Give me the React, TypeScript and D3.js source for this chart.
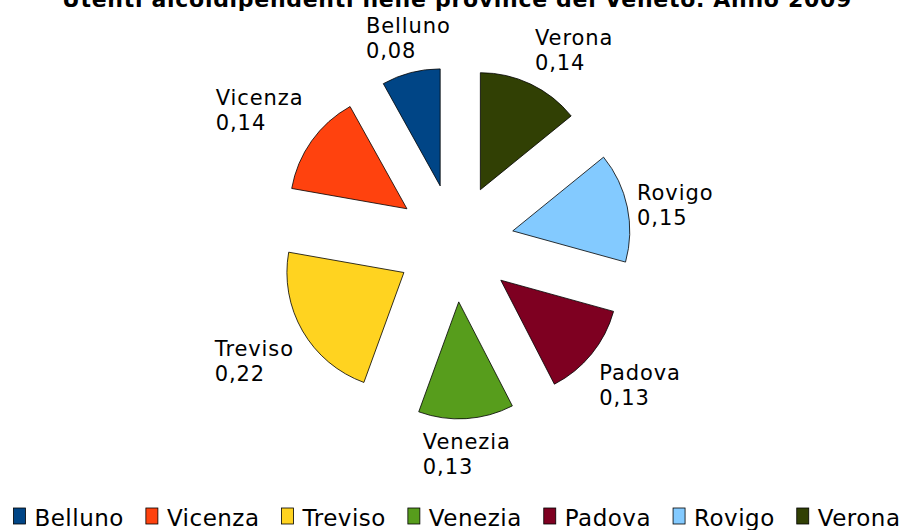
import React from "react";
import * as d3 from "d3";

const title = "Utenti alcoldipendenti nelle province del Veneto. Anno 2009";
const provinces = ["Belluno", "Vicenza", "Treviso", "Venezia", "Padova", "Rovigo", "Verona"];
const values = [0.08, 0.14, 0.22, 0.13, 0.13, 0.15, 0.14];
const colors = ["#004586", "#ff420e", "#ffd320", "#579d1c", "#7e0021", "#83caff", "#314004"];

const W = 909;
const H = 530;
const FONT = "'DejaVu Sans', Verdana, sans-serif";

let ctx: CanvasRenderingContext2D | null = null;
function measure(text: string, font: string, ls: number): number {
  if (!ctx) ctx = document.createElement("canvas").getContext("2d");
  if (!ctx) return text.length * 12;
  ctx.font = font;
  return ctx.measureText(text).width + ls * text.length;
}

const fmt = (v: number) => v.toFixed(2).replace(".", ",");

export default function App() {
  const cx = 455;
  const cy = 243;
  const R = 117;
  const explode = 59;
  const labelR = 186;
  const labelSize = 21;
  const labelLS = 0.9;
  const lineH = 25;

  const pie = d3
    .pie<number>()
    .sort(null)
    .value((d) => d)
    .startAngle(0)
    .endAngle(-2 * Math.PI);
  const arcs = pie(values);
  const arcGen = d3.arc<d3.PieArcDatum<number>>().innerRadius(0).outerRadius(R);

  const labelFont = `${labelSize}px ${FONT}`;

  const labels = arcs.map((a, i) => {
    const mid = (a.startAngle + a.endAngle) / 2;
    const ax = cx + Math.sin(mid) * labelR;
    const ay = cy - Math.cos(mid) * labelR;
    let theta = 90 - (mid * 180) / Math.PI;
    theta = ((theta % 360) + 360) % 360;
    const lines = [provinces[i], fmt(values[i])];
    const bw = Math.max(...lines.map((l) => measure(l, labelFont, labelLS)));
    const bh = 2 * lineH;
    const sector = Math.round(theta / 45) % 8;
    let x0 = ax;
    let y0 = ay;
    if (sector === 0) { x0 = ax; y0 = ay - bh / 2; }
    else if (sector === 1) { x0 = ax; y0 = ay - bh; }
    else if (sector === 2) { x0 = ax - bw / 2; y0 = ay - bh; }
    else if (sector === 3) { x0 = ax - bw; y0 = ay - bh; }
    else if (sector === 4) { x0 = ax - bw; y0 = ay - bh / 2; }
    else if (sector === 5) { x0 = ax - bw; y0 = ay; }
    else if (sector === 6) { x0 = ax - bw / 2; y0 = ay; }
    else { x0 = ax; y0 = ay; }
    return { x0, y0, lines };
  });

  const legendSize = 23;
  const legendLS = 0.5;
  const legendFont = `${legendSize}px ${FONT}`;
  const sqW = 12;
  const sqH = 16;
  const sqGap = 9;
  const itemGap = 22;
  const widths = provinces.map((p) => sqW + sqGap + measure(p, legendFont, legendLS));
  const total = widths.reduce((s, w) => s + w, 0) + itemGap * (provinces.length - 1);
  let lx = 457 - total / 2;
  const legendItems = provinces.map((p, i) => {
    const item = { x: lx, name: p, color: colors[i] };
    lx += widths[i] + itemGap;
    return item;
  });
  const legendBase = 526;

  return (
    <svg
      width={W}
      height={H}
      style={{ position: "absolute", left: 0, top: 0, background: "#fff" }}
      fontFamily={FONT}
    >
      <rect width={W} height={H} fill="#fff" />
      <text
        x={457}
        y={7}
        textAnchor="middle"
        fontWeight="bold"
        fontSize={22}
        letterSpacing={0.7}
        fill="#000"
      >
        {title}
      </text>
      {arcs.map((a, i) => {
        const mid = (a.startAngle + a.endAngle) / 2;
        const dx = Math.sin(mid) * explode;
        const dy = -Math.cos(mid) * explode;
        return (
          <path
            key={provinces[i]}
            d={arcGen(a) || ""}
            transform={`translate(${cx + dx},${cy + dy})`}
            fill={colors[i]}
            stroke="#000"
            strokeWidth={0.8}
          />
        );
      })}
      {labels.map((l, i) => (
        <text key={i} fontSize={labelSize} letterSpacing={labelLS} fill="#000">
          {l.lines.map((t, j) => (
            <tspan key={j} x={l.x0} y={l.y0 + 20 + j * lineH}>
              {t}
            </tspan>
          ))}
        </text>
      ))}
      {legendItems.map((it) => (
        <g key={it.name}>
          <rect
            x={it.x}
            y={legendBase - 18}
            width={sqW}
            height={sqH}
            fill={it.color}
            stroke="#000"
            strokeWidth={0.8}
          />
          <text
            x={it.x + sqW + sqGap}
            y={legendBase}
            fontSize={legendSize}
            letterSpacing={legendLS}
            fill="#000"
          >
            {it.name}
          </text>
        </g>
      ))}
    </svg>
  );
}
